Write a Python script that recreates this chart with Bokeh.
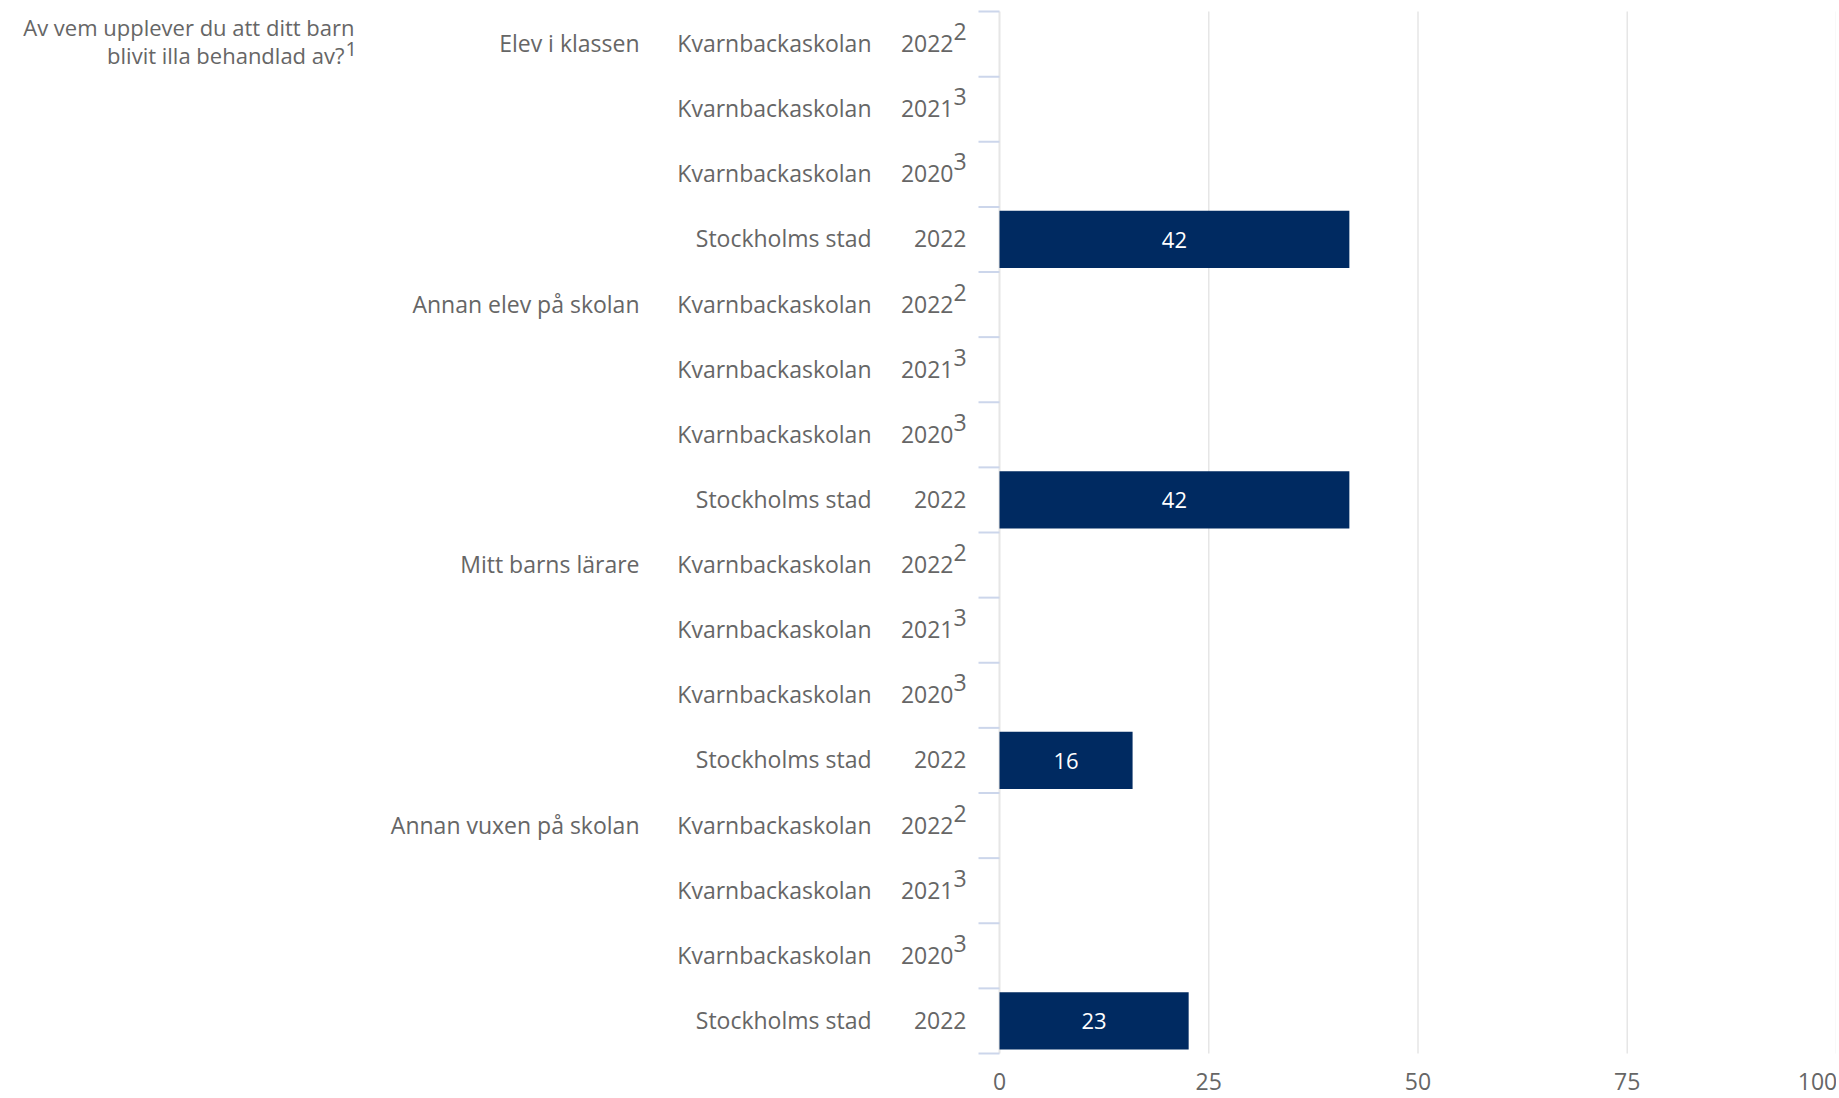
from bokeh.plotting import figure
from bokeh.models import Range1d, ColumnDataSource, LabelSet
from bokeh.core.properties import value
from bokeh.embed import file_html
from bokeh.resources import INLINE

# ---------------- data ----------------
header_lines = ["Av vem upplever du att ditt barn", "blivit illa behandlad av?"]
header_note = "1"

questions = ["Elev i klassen", "Annan elev på skolan", "Mitt barns lärare", "Annan vuxen på skolan"]
units = ["Kvarnbackaskolan", "Kvarnbackaskolan", "Kvarnbackaskolan", "Stockholms stad"]
years = ["2022", "2021", "2020", "2022"]
notes = ["2", "3", "3", ""]

# percent per unit row (None = too few answers, no bar)
elev_i_klassen = [None, None, None, 41.8]
annan_elev = [None, None, None, 41.8]
mitt_barns_larare = [None, None, None, 15.9]
annan_vuxen = [None, None, None, 22.6]
series = [elev_i_klassen, annan_elev, mitt_barns_larare, annan_vuxen]

x_ticks = [0, 25, 50, 75, 100]

# ---------------- styles / layout (pixels) ----------------
FONT = value("Open Sans")
LBL_FONT = value("Open Sans")
GREY = "#666666"
BAR = "#002a61"
FS = "23px"

W, H = 1836, 1096
ZERO_PX = 999          # x pixel of value 0 inside the canvas
PLOT_TOP = 11          # y pixel of the first category boundary
PLOT_BOTTOM = 1053     # y pixel of the last category boundary

n_rows = len(questions) * len(units)
px_per_x = (W - ZERO_PX) / 100.0
px_per_row = (PLOT_BOTTOM - PLOT_TOP) / n_rows

x_rng = Range1d(-ZERO_PX / px_per_x, 100)
y_rng = Range1d(n_rows + (H - PLOT_BOTTOM) / px_per_row, -PLOT_TOP / px_per_row)

p = figure(width=W, height=H, output_backend="svg", toolbar_location=None,
           x_range=x_rng, y_range=y_rng,
           min_border_left=0, min_border_right=0, min_border_top=0, min_border_bottom=0)
p.outline_line_color = None
p.background_fill_color = "white"
p.border_fill_color = "white"
p.xaxis.visible = False
p.yaxis.visible = False
p.xgrid.visible = False
p.ygrid.visible = False

# vertical grid lines (value axis)
grid_src = ColumnDataSource(dict(x=x_ticks[1:]))
p.segment(x0="x", x1="x", y0=0, y1=n_rows, source=grid_src, line_color="#e6e6e6", line_width=1.5)
# category axis line and tick marks
p.segment(x0=0, x1=0, y0=0, y1=n_rows, line_color="#e6e6e6", line_width=2)
tick_src = ColumnDataSource(dict(y=list(range(n_rows + 1))))
p.segment(x0=-21 / px_per_x, x1=0, y0="y", y1="y", source=tick_src, line_color="#ccd6eb", line_width=2)

# ---------------- rows ----------------
bar_y, bar_v, bar_t = [], [], []
yr_y, yr_t, yr_xo = [], [], []
sup_y, sup_t = [], []
sc_y, sc_t = [], []
q_y, q_t = [], []
for qi, q in enumerate(questions):
    for ui in range(len(units)):
        row = qi * len(units) + ui
        yc = row + 0.5
        if ui == 0:
            q_y.append(yc); q_t.append(q)
        sc_y.append(yc); sc_t.append(units[ui])
        yr_y.append(yc); yr_t.append(years[ui])
        if notes[ui]:
            yr_xo.append(-46)
            sup_y.append(yc); sup_t.append(notes[ui])
        else:
            yr_xo.append(-33)
        v = series[qi][ui]
        if v is not None:
            bar_y.append(yc); bar_v.append(v); bar_t.append(f"{v:.0f}")

bars = ColumnDataSource(dict(y=bar_y, v=bar_v, t=bar_t, x=[vv / 2 for vv in bar_v]))
p.hbar(y="y", right="v", left=0, height=0.88, source=bars, fill_color=BAR, line_color=None)
p.add_layout(LabelSet(x="x", y="y", text="t", source=bars, text_align="center",
                      text_baseline="alphabetic", y_offset=-8.5, text_color="white",
                      text_font=LBL_FONT, text_font_size="22px"))


def labels(ys, texts, xo, yo, align, size=FS):
    src = ColumnDataSource(dict(x=[0] * len(ys), y=ys, t=texts,
                                xo=xo if isinstance(xo, list) else [xo] * len(ys)))
    p.add_layout(LabelSet(x="x", y="y", text="t", source=src, x_offset="xo", y_offset=yo,
                          text_align=align, text_baseline="alphabetic", text_color=GREY,
                          text_font=FONT, text_font_size=size))


labels(yr_y, yr_t, yr_xo, -8, "right")
labels(sup_y, sup_t, -46, 4, "left")
labels(sc_y, sc_t, -128, -8, "right")
labels(q_y, q_t, -360, -8, "right")

# header (question title) at top-left
hsrc = ColumnDataSource(dict(x=[0, 0], y=[0.5, 0.5], t=header_lines, xo=[-645, -655], yo=[7.6, -20.4]))
p.add_layout(LabelSet(x="x", y="y", text="t", source=hsrc, x_offset="xo", y_offset="yo",
                      text_align="right", text_baseline="alphabetic", text_color=GREY,
                      text_font=FONT, text_font_size="22px"))
labels([0.5], [header_note], -654, -12.4, "left", "20px")

# value-axis tick labels
xsrc = ColumnDataSource(dict(x=x_ticks, y=[n_rows] * len(x_ticks), t=[str(t) for t in x_ticks],
                             xo=[0, 0, 0, 0, -19]))
p.add_layout(LabelSet(x="x", y="y", text="t", source=xsrc, x_offset="xo", y_offset=-36,
                      text_align="center", text_baseline="alphabetic", text_color=GREY,
                      text_font=FONT, text_font_size=FS))

open("out.html", "w").write(file_html(p, INLINE))
